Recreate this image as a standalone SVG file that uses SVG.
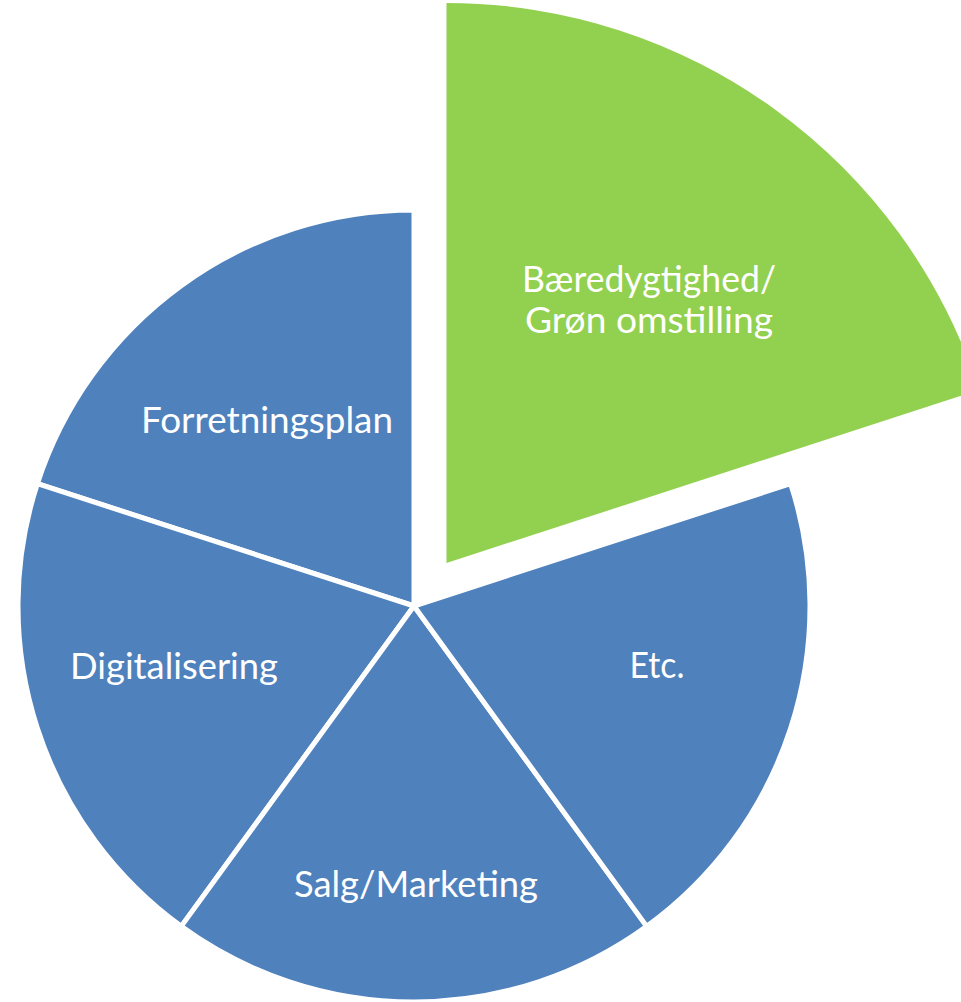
<svg xmlns="http://www.w3.org/2000/svg" width="961" height="1002" viewBox="0 0 961 1002">
<style>
.blue{fill:#4F81BD;stroke:#FFFFFF;stroke-width:5;stroke-linejoin:round}
.green{fill:#92D050;stroke:none}
.lbl{font-family:Lato,"Liberation Sans",sans-serif;font-size:37px;fill:#FFFFFF;text-anchor:middle}
</style>
<rect width="961" height="1002" fill="#FFFFFF"/>
<g id="node-forretningsplan">
<path class="blue" d="M414,606 L37.38,483.63 A396,396 0 0 1 414,210 Z"/>
<text class="lbl" x="267" y="433" textLength="252" lengthAdjust="spacingAndGlyphs">Forretningsplan</text>
</g>
<g id="node-digitalisering">
<path class="blue" d="M414,606 L181.24,926.37 A396,396 0 0 1 37.38,483.63 Z"/>
<text class="lbl" x="174" y="679" textLength="208" lengthAdjust="spacingAndGlyphs">Digitalisering</text>
</g>
<g id="node-salg">
<path class="blue" d="M414,606 L646.76,926.37 A396,396 0 0 1 181.24,926.37 Z"/>
<text class="lbl" x="416" y="897" textLength="244" lengthAdjust="spacingAndGlyphs">Salg/Marketing</text>
</g>
<g id="node-etc">
<path class="blue" d="M414,606 L790.62,483.63 A396,396 0 0 1 646.76,926.37 Z"/>
<text class="lbl" x="657" y="678" textLength="55" lengthAdjust="spacingAndGlyphs">Etc.</text>
</g>
<g id="node-baeredygtighed">
<path class="green" d="M446.5,563 L446.5,3 A560,560 0 0 1 979.09,389.95 Z"/>
<text class="lbl" x="649" y="292" textLength="254" lengthAdjust="spacingAndGlyphs">Bæredygtighed/</text>
<text class="lbl" x="649" y="333" textLength="248" lengthAdjust="spacingAndGlyphs">Grøn omstilling</text>
</g>
</svg>
